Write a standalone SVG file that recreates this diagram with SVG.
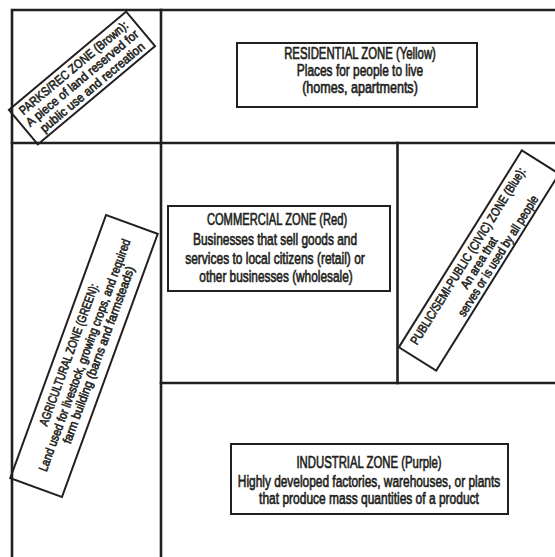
<svg xmlns="http://www.w3.org/2000/svg" width="555" height="557" viewBox="0 0 555 557">
  <style>
    .grid { stroke: #231f20; stroke-width: 2.6; fill: none; stroke-linecap: square; }
    .box { stroke: #231f20; stroke-width: 2; fill: none; }
    .t { font-family: "Liberation Sans", Arial, sans-serif; fill: #231f20; stroke: #231f20; stroke-width: 0.6; text-anchor: middle; }
    .h { font-size: 14.5px; }
    .r { font-size: 12.5px; }
  </style>
  <rect width="555" height="557" fill="#ffffff"/>
  <g id="grid" class="grid">
    <path d="M12 557 V10 H556"/>
    <path d="M161 10 V557"/>
    <path d="M12 143 H556"/>
    <path d="M397.5 143 V383"/>
    <path d="M161 383 H556"/>
  </g>

  <g id="residential">
    <rect class="box" x="237" y="43" width="240" height="64"/>
    <text class="t h" transform="translate(360 59) scale(0.82 1.1)" textLength="185" lengthAdjust="spacingAndGlyphs">RESIDENTIAL ZONE (Yellow)</text>
    <text class="t h" transform="translate(360 76) scale(0.82 1.1)" textLength="154" lengthAdjust="spacingAndGlyphs">Places for people to live</text>
    <text class="t h" transform="translate(360 93) scale(0.82 1.1)" textLength="141" lengthAdjust="spacingAndGlyphs">(homes, apartments)</text>
  </g>

  <g id="commercial">
    <rect class="box" x="168" y="206" width="222" height="85"/>
    <text class="t h" transform="translate(277 225) scale(0.82 1.1)" textLength="171" lengthAdjust="spacingAndGlyphs">COMMERCIAL ZONE (Red)</text>
    <text class="t h" transform="translate(275 245) scale(0.82 1.1)" textLength="200" lengthAdjust="spacingAndGlyphs">Businesses that sell goods and</text>
    <text class="t h" transform="translate(275 263.5) scale(0.82 1.1)" textLength="219" lengthAdjust="spacingAndGlyphs">services to local citizens (retail) or</text>
    <text class="t h" transform="translate(276 282) scale(0.82 1.1)" textLength="187" lengthAdjust="spacingAndGlyphs">other businesses (wholesale)</text>
  </g>

  <g id="industrial">
    <rect class="box" x="231" y="444" width="277" height="70"/>
    <text class="t h" transform="translate(369 468) scale(0.82 1.1)" textLength="177" lengthAdjust="spacingAndGlyphs">INDUSTRIAL ZONE (Purple)</text>
    <text class="t h" transform="translate(369 487) scale(0.82 1.1)" textLength="320" lengthAdjust="spacingAndGlyphs">Highly developed factories, warehouses, or plants</text>
    <text class="t h" transform="translate(369 504) scale(0.82 1.1)" textLength="268" lengthAdjust="spacingAndGlyphs">that produce mass quantities of a product</text>
  </g>

  <g id="parks" transform="translate(82 78) rotate(-40)">
    <rect class="box" x="-76.5" y="-22.5" width="153" height="45"/>
    <text class="t r" transform="translate(0 -9) scale(0.82 1)" textLength="168" lengthAdjust="spacingAndGlyphs">PARKS/REC ZONE (Brown):</text>
    <text class="t r" transform="translate(0 4.5) scale(0.82 1)" textLength="174" lengthAdjust="spacingAndGlyphs">A piece of land reserved for</text>
    <text class="t r" transform="translate(2 18) scale(0.82 1)" textLength="161" lengthAdjust="spacingAndGlyphs">public use and recreation</text>
  </g>

  <g id="agricultural" transform="translate(84 356) rotate(-70)">
    <rect class="box" x="-140" y="-27.5" width="280" height="55"/>
    <text class="t r" transform="translate(-4 -10.5) scale(0.82 1)" textLength="183" lengthAdjust="spacingAndGlyphs">AGRICULTURAL ZONE (GREEN):</text>
    <text class="t r" transform="translate(1 4.5) scale(0.82 1)" textLength="300" lengthAdjust="spacingAndGlyphs">Land used for livestock, growing crops, and required</text>
    <text class="t r" transform="translate(6 17.5) scale(0.82 1)" textLength="229" lengthAdjust="spacingAndGlyphs">farm building (barns and farmsteads)</text>
  </g>

  <g id="public" transform="translate(479 260.5) rotate(-58)">
    <rect class="box" x="-116" y="-22" width="232" height="44"/>
    <text class="t r" transform="translate(-2 -7.5) scale(0.82 1)" textLength="251" lengthAdjust="spacingAndGlyphs">PUBLIC/SEMI-PUBLIC (CIVIC) ZONE (Blue):</text>
    <text class="t r" transform="translate(-2 5.5) scale(0.82 1)" textLength="71" lengthAdjust="spacingAndGlyphs">An area that</text>
    <text class="t r" transform="translate(14 18) scale(0.82 1)" textLength="171" lengthAdjust="spacingAndGlyphs">serves or is used by all people</text>
  </g>
</svg>
